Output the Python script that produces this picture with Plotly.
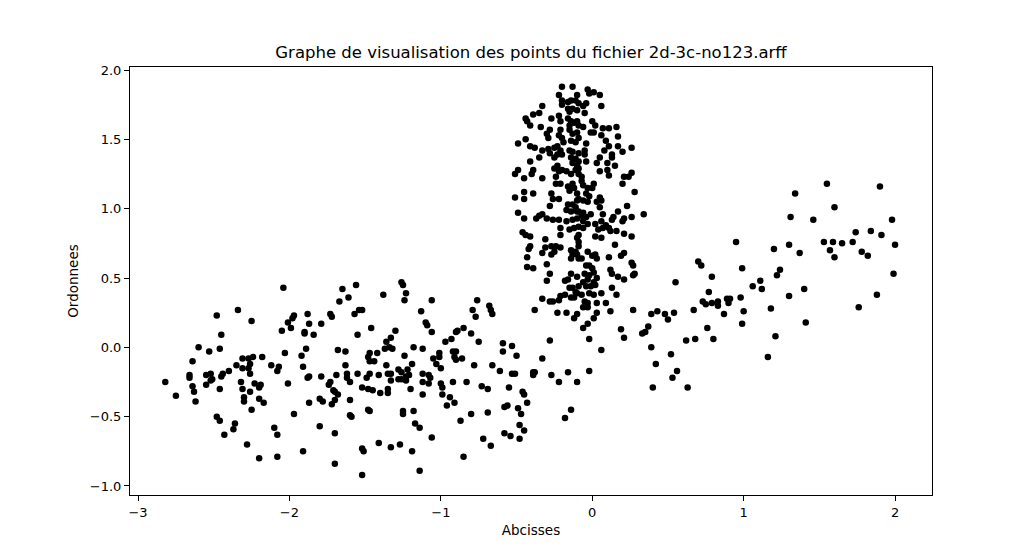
import plotly.graph_objects as go

# Points, grouped by region (x, y)
low_west = [(-2.04,0.43),(-2.34,0.27),(-2.48,0.23),(-2.25,0.19),(-1.97,0.23),(-1.98,0.21),(-2.01,0.18),(-1.99,0.14),
 (-2.05,0.12),(-2.45,0.09),(-2.60,0.00),(-2.53,-0.03),(-2.46,-0.01),(-2.03,-0.04),(-2.64,-0.10),(-2.31,-0.08),
 (-2.27,-0.08),(-2.24,-0.07),(-2.18,-0.07),(-2.35,-0.13),(-2.31,-0.15),(-2.27,-0.15),(-2.26,-0.12),(-2.12,-0.13),
 (-2.07,-0.14),(-2.08,-0.17),(-2.40,-0.17),(-2.44,-0.19),(-2.45,-0.21),(-2.26,-0.19),(-2.82,-0.25),(-2.66,-0.20),
 (-2.66,-0.22),(-2.55,-0.20),(-2.52,-0.19),(-2.51,-0.23),(-2.52,-0.24),(-2.55,-0.27),(-2.64,-0.28),(-2.63,-0.32),
 (-2.46,-0.30),(-2.32,-0.25),(-2.31,-0.30),(-2.23,-0.26),(-2.19,-0.27),(-2.20,-0.29),(-2.26,-0.32),(-2.01,-0.26),
 (-2.75,-0.35),(-2.62,-0.39),(-2.30,-0.36),(-2.30,-0.39),(-2.20,-0.37),(-2.17,-0.40),(-2.25,-0.45),(-1.97,-0.48),
 (-2.48,-0.50),(-2.46,-0.53),(-2.36,-0.55),(-2.37,-0.59),(-2.43,-0.63),(-2.10,-0.58),(-2.08,-0.63),(-2.28,-0.70),
 (-2.20,-0.80),(-2.08,-0.79)]

low_central = [(-1.26,0.47),(-1.25,0.45),(-1.56,0.45),(-1.65,0.42),(-1.61,0.36),(-1.67,0.33),(-1.38,0.38),(-1.23,0.39),
 (-1.24,0.34),(-1.06,0.34),(-1.88,0.24),(-1.73,0.24),(-1.72,0.22),(-1.57,0.24),(-1.54,0.27),(-1.52,0.27),
 (-1.13,0.26),(-1.87,0.17),(-1.79,0.17),(-1.90,0.11),(-1.90,0.10),(-1.84,0.09),(-1.46,0.14),(-1.55,0.09),
 (-1.10,0.18),(-1.09,0.16),(-1.06,0.11),(-1.30,0.12),(-1.33,0.07),(-1.36,0.04),(-1.37,-0.01),(-1.34,0.00),
 (-1.32,-0.01),(-0.97,0.04),(-1.89,-0.01),(-1.92,-0.06),(-1.68,-0.02),(-1.63,-0.03),(-1.47,-0.04),(-1.42,-0.04),
 (-1.48,-0.07),(-1.47,-0.10),(-1.44,-0.10),(-1.24,-0.06),(-1.18,0.00),(-1.12,-0.01),(-1.01,-0.04),(-1.01,-0.07),
 (-1.05,-0.08),(-1.19,-0.12),(-1.36,-0.13),(-1.91,-0.14),(-1.63,-0.13),(-1.03,-0.12),(-1.00,-0.15),(-1.88,-0.22),
 (-1.87,-0.21),(-1.79,-0.21),(-1.69,-0.20),(-1.62,-0.19),(-1.62,-0.22),(-1.60,-0.25),(-1.55,-0.19),(-1.47,-0.19),
 (-1.49,-0.22),(-1.41,-0.20),(-1.35,-0.19),(-1.33,-0.19),(-1.33,-0.24),(-1.28,-0.16),(-1.26,-0.18),(-1.22,-0.16),
 (-1.21,-0.20),(-1.28,-0.23),(-1.26,-0.23),(-1.23,-0.21),(-1.23,-0.24),(-1.12,-0.19),(-1.08,-0.20),(-1.07,-0.22),
 (-1.12,-0.25),(-1.08,-0.26),(-1.00,-0.26),(-0.99,-0.29),(-1.74,-0.27),(-1.73,-0.25),(-1.52,-0.29),(-1.48,-0.30),
 (-1.45,-0.31),(-1.40,-0.33),(-1.35,-0.30),(-1.35,-0.33),(-1.20,-0.30),(-1.12,-0.34),(-0.99,-0.34),(-1.71,-0.31),
 (-1.70,-0.32),(-1.68,-0.34),(-1.87,-0.40),(-1.80,-0.37),(-1.78,-0.39),(-1.70,-0.38),(-1.72,-0.41),(-1.60,-0.38),
 (-0.96,-0.42),(-1.48,-0.45),(-1.47,-0.46),(-1.60,-0.49),(-1.59,-0.50),(-1.25,-0.46),(-1.25,-0.48),(-1.18,-0.46),
 (-1.17,-0.55),(-1.14,-0.58),(-1.80,-0.57),(-1.70,-0.62),(-1.06,-0.65),(-1.91,-0.75),(-1.52,-0.73),(-1.51,-0.75),
 (-1.41,-0.69),(-1.33,-0.72),(-1.27,-0.70),(-1.19,-0.75),(-1.70,-0.84),(-1.52,-0.92),(-1.14,-0.89)]

low_east = [(-0.76,0.34),(-0.79,0.27),(-0.77,0.22),(-0.68,0.30),(-0.67,0.27),(-0.66,0.24),(-0.85,0.14),(-0.89,0.12),
 (-0.90,0.11),(-0.80,0.10),(-0.93,0.06),(-0.75,0.04),(-0.92,-0.03),(-0.90,-0.03),(-0.91,-0.07),(-0.90,-0.09),
 (-0.86,-0.08),(-0.78,-0.13),(-0.66,-0.13),(-0.92,-0.25),(-0.83,-0.25),(-0.73,-0.28),(-0.69,-0.30),(-0.94,-0.36),
 (-0.91,-0.40),(-0.80,-0.48),(-0.87,-0.53),(-0.69,-0.47),(-0.72,-0.66),(-0.67,-0.71),(-0.85,-0.79),(-0.61,-0.17),
 (-0.53,-0.19),(-0.51,-0.19),(-0.39,-0.18),(-0.38,-0.18),(-0.39,-0.20),(-0.27,-0.20),(-0.22,-0.25),(-0.16,-0.18),
 (-0.10,-0.25),(-0.02,-0.17),(-0.55,-0.29),(-0.46,-0.32),(-0.45,-0.34),(-0.43,-0.40),(-0.58,-0.43),(-0.56,-0.42),
 (-0.49,-0.44),(-0.47,-0.48),(-0.48,-0.56),(-0.45,-0.60),(-0.58,-0.62),(-0.54,-0.64),(-0.48,-0.66),(-0.14,-0.45),
 (-0.18,-0.51)]

cluster_base = [(-0.28,0.53),(-0.14,0.53),(-0.30,0.48),(-0.18,0.48),(-0.16,0.49),(-0.14,0.36),(-0.33,0.35),(-0.28,0.33),
 (-0.26,0.33),(-0.22,0.34),(-0.38,0.27),(-0.23,0.25),(-0.17,0.25),(-0.12,0.21),(-0.10,0.24),(-0.28,0.05),
 (-0.59,0.03),(-0.59,-0.03),(-0.53,0.01),(-0.50,-0.06),(-0.33,-0.08),(-0.21,0.37),(-0.18,0.38),(-0.15,0.43),
 (-0.13,0.43),(-0.11,0.40),(-0.10,0.39),(-0.09,0.44),(-0.10,0.51),(-0.05,0.53),(-0.02,0.52),(0.01,0.54),
 (-0.06,0.47),(-0.03,0.49),(0.01,0.47),(0.03,0.50),(-0.04,0.44),(-0.01,0.44),(0.02,0.45),(-0.07,0.38),
 (-0.02,0.39),(0.01,0.38),(0.06,0.39),(0.12,0.56),(0.13,0.53),(0.17,0.51),(0.21,0.49),(0.27,0.52),
 (0.28,0.53),(0.13,0.43),(0.16,0.38),(-0.05,0.33),(-0.03,0.32),(0.03,0.32),(0.09,0.32),(-0.06,0.29),
 (-0.03,0.29),(0.03,0.25),(0.01,0.21),(0.12,0.26),(0.27,0.27),(-0.03,0.17),(-0.06,0.14),(0.19,0.13),
 (0.21,0.07),(-0.02,0.06),(0.06,-0.02),(0.33,0.10),(0.35,0.11),(0.37,0.15),(0.39,0.24),(0.43,0.26),
 (0.39,0.00),(-0.12,0.36),(-0.07,0.64)]

cluster_top = [(-0.20,1.88),(-0.13,1.88),(-0.22,1.82),(-0.20,1.78),(-0.20,1.75),(-0.16,1.77),(-0.14,1.78),(-0.11,1.78),
 (-0.09,1.76),(-0.33,1.74),(-0.35,1.69),(-0.39,1.68),(-0.44,1.65),(-0.43,1.63),(-0.41,1.60),(-0.27,1.65),
 (-0.22,1.67),(-0.21,1.63),(-0.16,1.72),(-0.15,1.70),(-0.13,1.72),(-0.10,1.71),(-0.16,1.65),(-0.14,1.63),
 (-0.12,1.62),(-0.15,1.60),(-0.10,1.63),(-0.34,1.59),(-0.28,1.57),(-0.30,1.54),(-0.29,1.51),(-0.21,1.57),
 (-0.22,1.53),(-0.20,1.51),(-0.19,1.48),(-0.15,1.57),(-0.13,1.54),(-0.10,1.55),(-0.14,1.49),(-0.11,1.48),
 (-0.09,1.51),(-0.44,1.50),(-0.49,1.47),(-0.41,1.45),(-0.38,1.44),(-0.33,1.42),(-0.29,1.43),(-0.28,1.40),
 (-0.25,1.44),(-0.23,1.45),(-0.21,1.42),(-0.35,1.37),(-0.25,1.37),(-0.23,1.39),(-0.20,1.39),(-0.15,1.42),
 (-0.13,1.41),(-0.14,1.37),(-0.11,1.36),(-0.09,1.40),(-0.41,1.34),(-0.39,1.28),(-0.40,1.25),(-0.49,1.28),
 (-0.51,1.25),(-0.33,1.22),(-0.45,1.22),(-0.25,1.29),(-0.23,1.31),(-0.22,1.27),(-0.20,1.28),(-0.17,1.27),
 (-0.14,1.25),(-0.11,1.28),(-0.09,1.29),(-0.13,1.33),(-0.09,1.34),(-0.03,1.86),(-0.02,1.83),(0.01,1.84),
 (0.05,1.82),(-0.10,1.82),(0.06,1.74),(-0.04,1.76),(-0.06,1.74),(-0.05,1.69),(0.00,1.63),(0.02,1.60),
 (-0.01,1.55),(0.01,1.55),(-0.06,1.59),(-0.09,1.60),(0.07,1.58),(0.11,1.58),(0.16,1.59),(0.06,1.53),
 (0.09,1.49),(0.17,1.52),(0.11,1.45),(0.17,1.45),(0.20,1.41),(0.26,1.44),(0.08,1.42),(0.13,1.39),
 (0.13,1.37),(-0.04,1.47),(-0.05,1.42),(-0.05,1.39),(0.05,1.37),(0.03,1.33),(0.10,1.33),(0.15,1.31),
 (-0.04,1.34),(0.05,1.27),(0.10,1.28),(0.11,1.24),(0.21,1.23),(0.24,1.23),(0.26,1.26),(-0.10,1.31),
 (-0.09,1.25),(-0.07,1.23)]

cluster_mid = [(-0.24,1.23),(-0.24,1.18),(-0.21,1.18),(-0.16,1.16),(-0.13,1.18),(-0.15,1.13),(-0.12,1.15),(-0.10,1.11),
 (-0.45,1.12),(-0.39,1.11),(-0.45,1.07),(-0.51,1.08),(-0.27,1.11),(-0.26,1.07),(-0.22,1.07),(-0.16,1.03),
 (-0.13,1.03),(-0.11,1.01),(-0.17,0.99),(-0.14,0.98),(-0.10,0.98),(-0.28,1.02),(-0.49,0.97),(-0.45,0.93),
 (-0.35,0.95),(-0.33,0.96),(-0.37,0.93),(-0.30,0.93),(-0.26,0.92),(-0.22,0.92),(-0.17,0.91),(-0.13,0.92),
 (-0.10,0.93),(-0.21,0.86),(-0.15,0.85),(-0.12,0.86),(-0.09,0.87),(-0.46,0.83),(-0.44,0.81),(-0.41,0.80),
 (-0.21,0.81),(-0.31,0.78),(-0.41,0.73),(-0.42,0.71),(-0.43,0.65),(-0.31,0.72),(-0.27,0.73),(-0.24,0.73),
 (-0.21,0.72),(-0.25,0.69),(-0.27,0.67),(-0.33,0.68),(-0.14,0.70),(-0.13,0.67),(-0.14,0.64),(-0.10,0.67),
 (-0.09,0.64),(-0.30,0.60),(-0.43,0.58),(-0.39,0.57),(-0.07,1.20),(-0.06,1.17),(-0.03,1.15),(-0.04,1.11),
 (-0.02,1.09),(-0.09,1.07),(-0.06,1.06),(-0.03,1.05),(0.01,1.18),(0.00,1.15),(0.20,1.18),(0.28,1.12),
 (0.05,1.08),(0.06,1.06),(0.03,1.05),(0.05,1.01),(0.23,1.02),(0.17,0.98),(0.14,0.94),(0.13,0.92),
 (0.07,0.96),(0.21,0.93),(0.20,0.91),(0.26,0.94),(0.34,0.96),(-0.07,0.95),(-0.04,0.94),(-0.01,0.96),
 (-0.06,0.91),(-0.03,0.89),(-0.06,0.86),(0.02,0.89),(0.06,0.91),(0.09,0.88),(0.07,0.86),(0.04,0.85),
 (0.11,0.86),(0.12,0.84),(0.16,0.84),(0.21,0.82),(0.02,0.80),(0.06,0.79),(0.26,0.80),(-0.09,0.81),
 (-0.10,0.79),(-0.09,0.76),(0.15,0.74),(-0.09,0.73),(-0.11,0.69),(-0.03,0.69),(0.00,0.66),(0.02,0.67),
 (0.03,0.64),(0.11,0.65),(0.19,0.66),(0.21,0.68),(-0.04,0.59),(-0.02,0.59),(0.00,0.57),(0.26,0.61),
 (0.27,0.59),(-0.10,1.06),(-0.06,0.97),(-0.09,0.98)]

right_arm = [(0.95,0.76),(0.70,0.62),(0.72,0.59),(0.79,0.51),(0.55,0.47),(0.77,0.40),(0.73,0.33),(0.75,0.31),
 (0.79,0.32),(0.83,0.30),(0.83,0.33),(0.89,0.35),(0.91,0.35),(0.90,0.32),(0.87,0.24),(0.67,0.27),
 (0.48,0.24),(0.50,0.20),(0.54,0.25),(0.76,0.14),(0.62,0.05),(0.68,0.06),(0.80,0.06),(0.52,-0.05),
 (0.42,-0.12),(0.56,-0.17),(0.53,-0.22),(0.40,-0.29),(0.63,-0.29),(1.55,1.18),(1.90,1.16),(1.34,1.11),
 (1.60,1.01),(1.31,0.94),(1.46,0.92),(1.98,0.92),(1.74,0.83),(1.84,0.84),(1.91,0.81),(1.53,0.76),
 (1.59,0.76),(1.65,0.75),(1.72,0.76),(1.57,0.70),(1.60,0.65),(1.78,0.69),(1.82,0.66),(2.00,0.74),
 (1.20,0.71),(1.30,0.74),(1.37,0.68),(0.99,0.57),(1.24,0.56),(1.22,0.52),(1.99,0.53),(1.11,0.48),
 (1.12,0.42),(1.06,0.44),(0.98,0.36),(1.30,0.37),(1.40,0.42),(1.88,0.38),(1.76,0.29),(1.00,0.26),
 (1.18,0.28),(0.99,0.17),(1.41,0.18),(1.21,0.08),(1.16,-0.07)]

groups = [low_west, low_central, low_east, cluster_base, cluster_top, cluster_mid, right_arm]
xs = [p[0] for g in groups for p in g]
ys = [p[1] for g in groups for p in g]

x_ticks = [-3, -2, -1, 0, 1, 2]
y_ticks = [-1.0, -0.5, 0.0, 0.5, 1.0, 1.5, 2.0]

def lab(v, fmt):
    s = format(v, fmt)
    return s.replace("-", "\u2212")

fig = go.Figure(go.Scatter(
    x=xs, y=ys, mode="markers",
    marker=dict(color="black", size=6.5, line=dict(width=0)),
    showlegend=False,
))

font = "DejaVu Sans"
axis_common = dict(
    showgrid=False, zeroline=False, showline=True, linecolor="black", linewidth=1,
    mirror=True, ticks="outside", ticklen=5, tickwidth=1, tickcolor="black",
    tickfont=dict(family=font, size=13, color="black"),
)
fig.update_layout(
    width=1036, height=556, autosize=False,
    margin=dict(l=122, r=112, t=59, b=69),
    paper_bgcolor="white", plot_bgcolor="white",
    title=dict(text="Graphe de visualisation des points du fichier 2d-3c-no123.arff",
               x=0.5, xref="paper", y=1 - 44 / 556, yref="container",
               xanchor="center", yanchor="middle",
               font=dict(family=font, size=16.5, color="black")),
    xaxis=dict(range=[-3.053, 2.244], tickvals=x_ticks,
               ticktext=[lab(v, "d") for v in x_ticks],
               title=dict(text="Abcisses", font=dict(family=font, size=13.5, color="black"), standoff=6),
               **axis_common),
    yaxis=dict(range=[-1.065, 2.022], tickvals=y_ticks,
               ticktext=[lab(v, ".1f") for v in y_ticks],
               title=dict(text="Ordonnees", font=dict(family=font, size=13.5, color="black"), standoff=8),
               **axis_common),
)

fig.write_html("out.html")
